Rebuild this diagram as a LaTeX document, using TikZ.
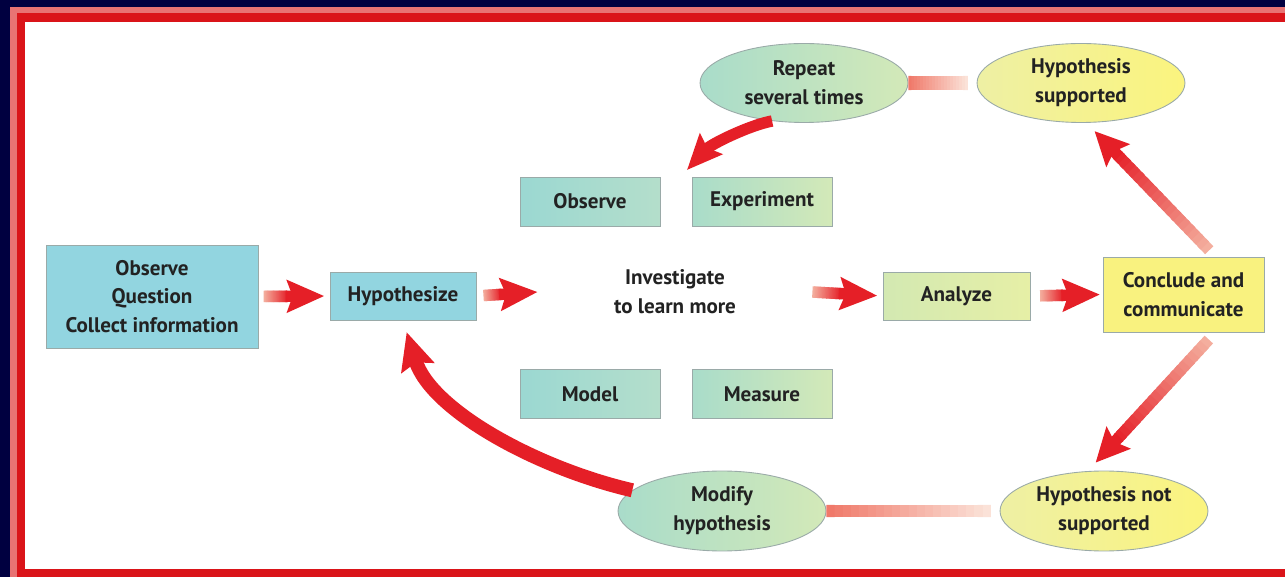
\documentclass[tikz,border=0pt]{standalone}
\usepackage{fontspec}
\setmainfont{PT Sans}
\usetikzlibrary{calc,arrows.meta,shapes.geometric}

\definecolor{navy}{HTML}{000040}
\definecolor{framepink}{HTML}{E87373}
\definecolor{framered}{HTML}{DA1419}
\definecolor{arrowred}{HTML}{E51F27}
\definecolor{tailpink}{HTML}{F4AE9E}
\definecolor{barpale}{HTML}{FBE2D8}
\definecolor{barred}{HTML}{EF7464}
\definecolor{ink}{HTML}{222222}
\definecolor{boxline}{HTML}{9AAAA8}
\definecolor{cyanbox}{HTML}{92D5E0}
\definecolor{tealL}{HTML}{9BD8D2}
\definecolor{tealR}{HTML}{B4DECB}
\definecolor{mintL}{HTML}{A9DCCA}
\definecolor{mintR}{HTML}{D3E9B8}
\definecolor{limeL}{HTML}{D3E9B2}
\definecolor{limeR}{HTML}{E6EFA6}
\definecolor{sunL}{HTML}{EEF0A4}
\definecolor{sunR}{HTML}{FBF47E}
\definecolor{sunbox}{HTML}{F9F27F}

% faded thick line, pale at the first end
\newcommand{\fadeline}[7]{%
  \coordinate (fl-a) at ($(#1)!#3!(#2)$);
  \coordinate (fl-b) at ($(#2)!#4!(#1)$);
  \foreach \k in {0,...,19} {
    \pgfmathsetmacro{\fa}{\k/20}
    \pgfmathsetmacro{\fb}{min(1,(\k+1.6)/20)}
    \pgfmathtruncatemacro{\mixk}{100-5*\k}
    \draw[line width=#5, draw=#6!\mixk!#7] ($(fl-a)!\fa!(fl-b)$) -- ($(fl-a)!\fb!(fl-b)$);}}
% faded arrow with a red head
\newcommand{\fadearrow}[5]{%
  \coordinate (fh-e) at ($(#2)!#4!(#1)$);
  \coordinate (fh-h) at ($(fh-e)!#5!(#1)$);
  \fadeline{#1}{fh-h}{#3}{0pt}{6.5pt}{tailpink}{arrowred}
  \draw[arrowred, line width=6.5pt, -{Stealth[width=18pt,length=#5,inset=3pt]}] ($(fh-h)!1pt!(#1)$) -- (fh-e);}

\tikzset{
  stepbox/.style={draw=boxline, line width=0.5pt, inner sep=2pt, align=center,
    text=ink, font=\fontsize{12}{16.4}\selectfont\bfseries},
  cyanstep/.style={stepbox, fill=cyanbox},
  tealstep/.style={stepbox, left color=tealL, right color=tealR, minimum width=2.8cm, minimum height=0.98cm},
  mintstep/.style={stepbox, left color=mintL, right color=mintR, minimum width=2.8cm, minimum height=0.98cm},
  greenoval/.style={stepbox, ellipse, left color=mintL, right color=mintR, minimum width=4.16cm, minimum height=1.58cm},
  sunoval/.style={stepbox, ellipse, left color=sunL, right color=sunR, minimum width=4.16cm, minimum height=1.58cm},
}

\begin{document}
\begin{tikzpicture}[x=0.02cm, y=-0.02cm]
\useasboundingbox (0,0) rectangle (1285,577);
% frame: navy ground, red band on the left, top and bottom
\fill[navy] (0,0) rectangle (1285,22);
\fill[navy] (0,0) rectangle (25,577);
\fill[white] (25,22) rectangle (1285,569);
\fill[framepink] (10,7) rectangle (1285,13);
\fill[framepink] (10,7) rectangle (17,577);
\fill[framered] (17,13) rectangle (1285,22);
\fill[framered] (17,13) rectangle (25,577);
\fill[framered] (17,569) rectangle (1285,577);

% boxes
\node[cyanstep, minimum width=4.24cm, minimum height=2.06cm] (cobs) at (152,296.5) {Observe\\Question\\Collect information};
\node[cyanstep, minimum width=2.92cm, minimum height=0.96cm] (hyp) at (403,296) {Hypothesize};
\node[stepbox, draw=none, minimum width=5.48cm] (inv) at (675,292) {Investigate\\to learn more};
\node[tealstep] (obs) at (590,201.5) {Observe};
\node[mintstep] (expt) at (762,201.5) {Experiment};
\node[tealstep] (model) at (590,394) {Model};
\node[mintstep] (meas) at (762,394) {Measure};
\node[stepbox, left color=limeL, right color=limeR, minimum width=2.94cm, minimum height=0.96cm] (ana) at (956.5,296) {Analyze};
\node[stepbox, fill=sunbox, minimum width=3.22cm, minimum height=1.5cm] (conc) at (1183.5,294.5) {Conclude and\\communicate};
\node[greenoval] (rep) at (804,83) {Repeat\\several times};
\node[sunoval] (hs) at (1081,83) {Hypothesis\\supported};
\node[greenoval, minimum height=1.6cm] (mod) at (722,511) {Modify\\hypothesis};
\node[sunoval, minimum height=1.6cm] (hns) at (1104,511) {Hypothesis not\\supported};
\coordinate (rtip) at (687,170);

% straight arrows
\fadearrow{cobs.east}{hyp.west}{3pt}{3pt}{21pt}
\fadearrow{hyp.east}{inv.west}{4pt}{0pt}{21pt}
\fadearrow{inv.east}{ana.west}{0pt}{3pt}{21pt}
\fadearrow{ana.east}{conc.west}{5.5pt}{1.5pt}{21pt}
\fadearrow{conc.50}{hs.-82}{5pt}{6.5pt}{19pt}
\fadearrow{conc.-50}{hns.112}{5.5pt}{6.5pt}{19pt}

% bars without heads
\fadeline{hs.west}{rep.east}{5pt}{0pt}{8pt}{barpale}{barred}
\fadeline{hns.west}{mod.east}{5pt}{0pt}{7pt}{barpale}{barred}

% curved arrows
\draw[arrowred, line width=6.5pt, -{Stealth[width=17pt,length=20pt,inset=3pt]}]
  (rep.-130) .. controls +(-22,4) and +(24,-26) .. (rtip);
\draw[arrowred, line width=8pt, shorten >=7pt, -{Stealth[width=19pt,length=21pt,inset=3pt]}]
  (mod.167) .. controls +(-95,-22) and +(28,90) .. (hyp.south);
\end{tikzpicture}
\end{document}
